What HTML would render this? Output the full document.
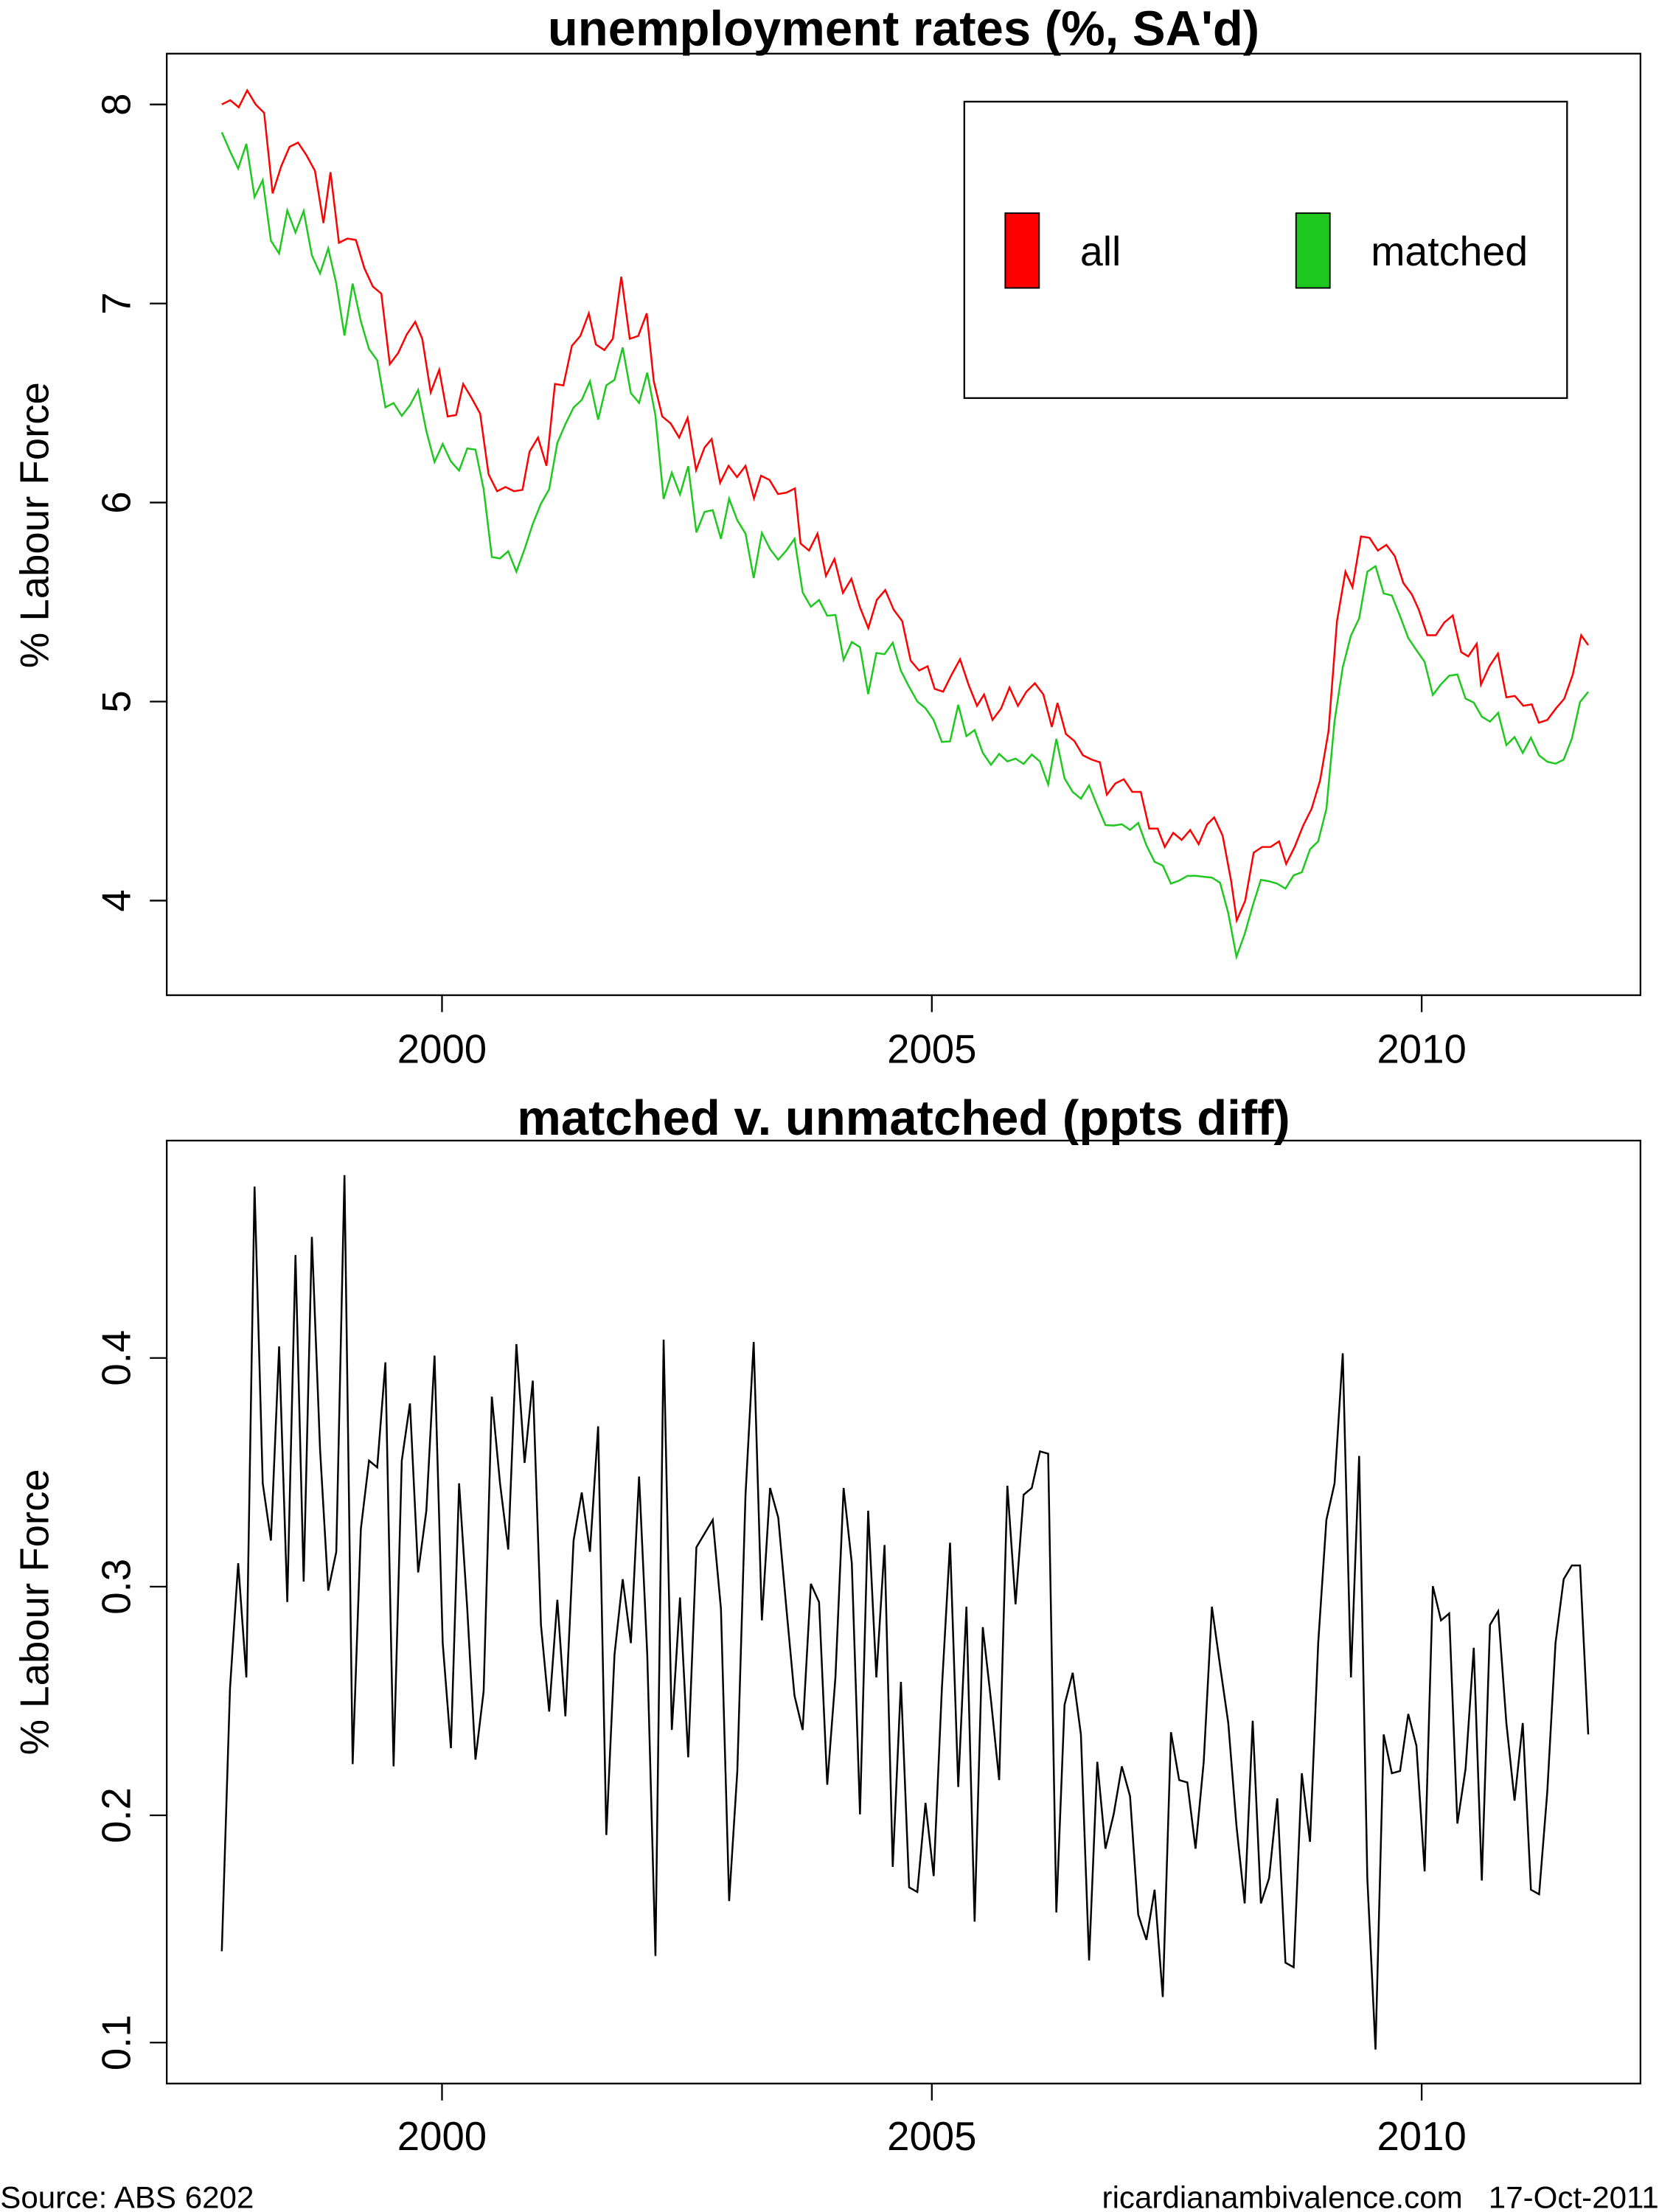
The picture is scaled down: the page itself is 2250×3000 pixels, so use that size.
<!DOCTYPE html>
<html><head><meta charset="utf-8"><style>html,body{margin:0;padding:0;background:#fff}svg{display:block}</style></head>
<body>
<svg id="s" width="2250" height="3000" viewBox="0 0 1175 1567" xmlns="http://www.w3.org/2000/svg" font-family="Liberation Sans, Arial, sans-serif">
<rect width="1175" height="1567" fill="#fff"/>
<g fill="none" stroke="#000" stroke-width="1.2">
<rect x="118" y="38" width="1044" height="667"/>
<rect x="118" y="808" width="1044" height="668"/>
<path d="M106,74H118M106,215H118M106,356H118M106,497H118M106,638H118M313,705V717M660,705V717M1007,705V717"/>
<path d="M106,962H118M106,1124H118M106,1286H118M106,1447H118M313,1476V1488M660,1476V1488M1007,1476V1488"/>
<rect x="683" y="72" width="427" height="210"/>
</g>
<rect x="712" y="151" width="24" height="53" fill="#ff0000" stroke="#000" stroke-width="1"/>
<rect x="918" y="151" width="24" height="53" fill="#1ec81e" stroke="#000" stroke-width="1"/>
<text x="765" y="188" font-size="29">all</text>
<text x="971" y="188" font-size="29">matched</text>
<g font-weight="bold" font-size="35" text-anchor="middle">
<text x="640" y="32">unemployment rates (%, SA'd)</text>
<text x="640" y="804">matched v. unmatched (ppts diff)</text>
</g>
<g font-size="28.5" text-anchor="middle">
<text x="313" y="753">2000</text><text x="660" y="753">2005</text><text x="1007" y="753">2010</text>
<text x="313" y="1523">2000</text><text x="660" y="1523">2005</text><text x="1007" y="1523">2010</text>
<text transform="translate(92,74) rotate(-90)">8</text>
<text transform="translate(92,215) rotate(-90)">7</text>
<text transform="translate(92,356) rotate(-90)">6</text>
<text transform="translate(92,497) rotate(-90)">5</text>
<text transform="translate(92,638) rotate(-90)">4</text>
<text transform="translate(92,962) rotate(-90)">0.4</text>
<text transform="translate(92,1124) rotate(-90)">0.3</text>
<text transform="translate(92,1286) rotate(-90)">0.2</text>
<text transform="translate(92,1447) rotate(-90)">0.1</text>
<text transform="translate(34,372) rotate(-90)">% Labour Force</text>
<text transform="translate(34,1142) rotate(-90)">% Labour Force</text>
</g>
<text x="0" y="1564" font-size="22">Source: ABS 6202</text>
<text x="1175" y="1564" font-size="22" text-anchor="end" xml:space="preserve">ricardianambivalence.com   17-Oct-2011</text>
<polyline id="g" fill="none" stroke="#1ec81e" stroke-width="1.3"/>
<polyline id="r" fill="none" stroke="#ff0000" stroke-width="1.3"/>
<polyline id="d" fill="none" stroke="#000" stroke-width="1.3"/>
</svg>
<script>
var R=[157,74,163,71,169,76,175,64,181,74,187,80,193,137,199,118,205,104,211,101,217,110,223,121,229,158,234,122,240,172,246,169,252,170,258,190,264,203,270,208,276,258,282,250,288,237,294,228,299,240,305,278,311,262,317,295,323,294,328,272,334,282,340,293,346,336,352,348,358,345,364,348,370,347,375,320,381,310,387,330,393,272,399,273,405,245,411,238,417,222,422,244,428,248,434,240,440,196,446,240,452,238,458,222,463,270,469,295,475,300,481,310,487,296,493,333,499,317,504,311,510,342,516,330,522,338,528,330,534,353,539,337,545,340,551,350,557,349,563,346,567,385,573,390,579,378,585,408,591,396,597,420,603,410,609,430,615,445,621,425,627,418,633,432,639,440,645,468,651,475,657,472,662,488,668,490,674,478,680,467,686,485,692,500,697,492,703,510,709,502,715,487,721,500,727,490,733,484,739,492,745,515,749,498,755,520,761,525,767,535,773,538,779,540,784,563,790,555,796,552,802,561,808,561,814,587,820,587,825,600,831,590,837,595,843,588,849,598,855,584,860,579,866,592,872,624,876,652,882,638,888,604,894,600,900,600,906,596,911,612,917,600,923,585,929,573,935,553,941,518,947,440,953,405,958,416,964,380,970,381,976,390,982,386,988,394,994,413,1000,421,1005,432,1011,450,1017,450,1023,441,1029,436,1035,462,1040,465,1046,456,1049,485,1055,472,1061,463,1067,494,1073,493,1079,500,1085,499,1090,512,1096,510,1102,502,1108,495,1114,478,1120,450,1125,457];
var D=[0.14,0.255,0.31,0.26,0.475,0.345,0.32,0.405,0.293,0.445,0.302,0.453,0.36,0.298,0.315,0.48,0.222,0.325,0.355,0.352,0.398,0.221,0.355,0.38,0.306,0.333,0.401,0.275,0.229,0.345,0.29,0.224,0.254,0.383,0.345,0.316,0.406,0.354,0.39,0.283,0.245,0.294,0.243,0.32,0.341,0.315,0.37,0.191,0.27,0.303,0.275,0.348,0.27,0.138,0.408,0.237,0.295,0.225,0.317,0.323,0.329,0.29,0.162,0.219,0.34,0.407,0.285,0.343,0.33,0.29,0.252,0.237,0.301,0.293,0.213,0.26,0.343,0.31,0.2,0.333,0.26,0.318,0.177,0.258,0.168,0.166,0.205,0.173,0.255,0.319,0.212,0.291,0.153,0.282,0.25,0.215,0.344,0.292,0.34,0.343,0.359,0.358,0.157,0.248,0.262,0.235,0.136,0.223,0.185,0.2,0.221,0.208,0.156,0.145,0.167,0.12,0.236,0.215,0.214,0.185,0.223,0.291,0.265,0.24,0.195,0.161,0.241,0.161,0.172,0.207,0.135,0.133,0.218,0.188,0.275,0.329,0.345,0.402,0.26,0.357,0.172,0.097,0.235,0.218,0.219,0.244,0.23,0.175,0.3,0.285,0.288,0.196,0.22,0.273,0.171,0.283,0.289,0.24,0.206,0.24,0.167,0.165,0.21,0.275,0.303,0.309,0.309,0.235];
function ry(x){for(var i=0;i<R.length-2;i+=2){if(x<=R[i+2]){var t=(x-R[i])/(R[i+2]-R[i]);return R[i+1]+t*(R[i+3]-R[i+1]);}}return R[R.length-1];}
var rp=[],gp=[],dp=[],n=D.length;
for(var i=0;i<R.length;i+=2)rp.push(R[i]+','+R[i+1]);
for(var i=0;i<n;i++){var x=157+i*968/(n-1);gp.push(x.toFixed(1)+','+(ry(x)+D[i]*141).toFixed(1));dp.push(x.toFixed(1)+','+(1447-(D[i]-0.1)*1617).toFixed(1));}
document.getElementById('r').setAttribute('points',rp.join(' '));
document.getElementById('g').setAttribute('points',gp.join(' '));
document.getElementById('d').setAttribute('points',dp.join(' '));
</script>
</body></html>
